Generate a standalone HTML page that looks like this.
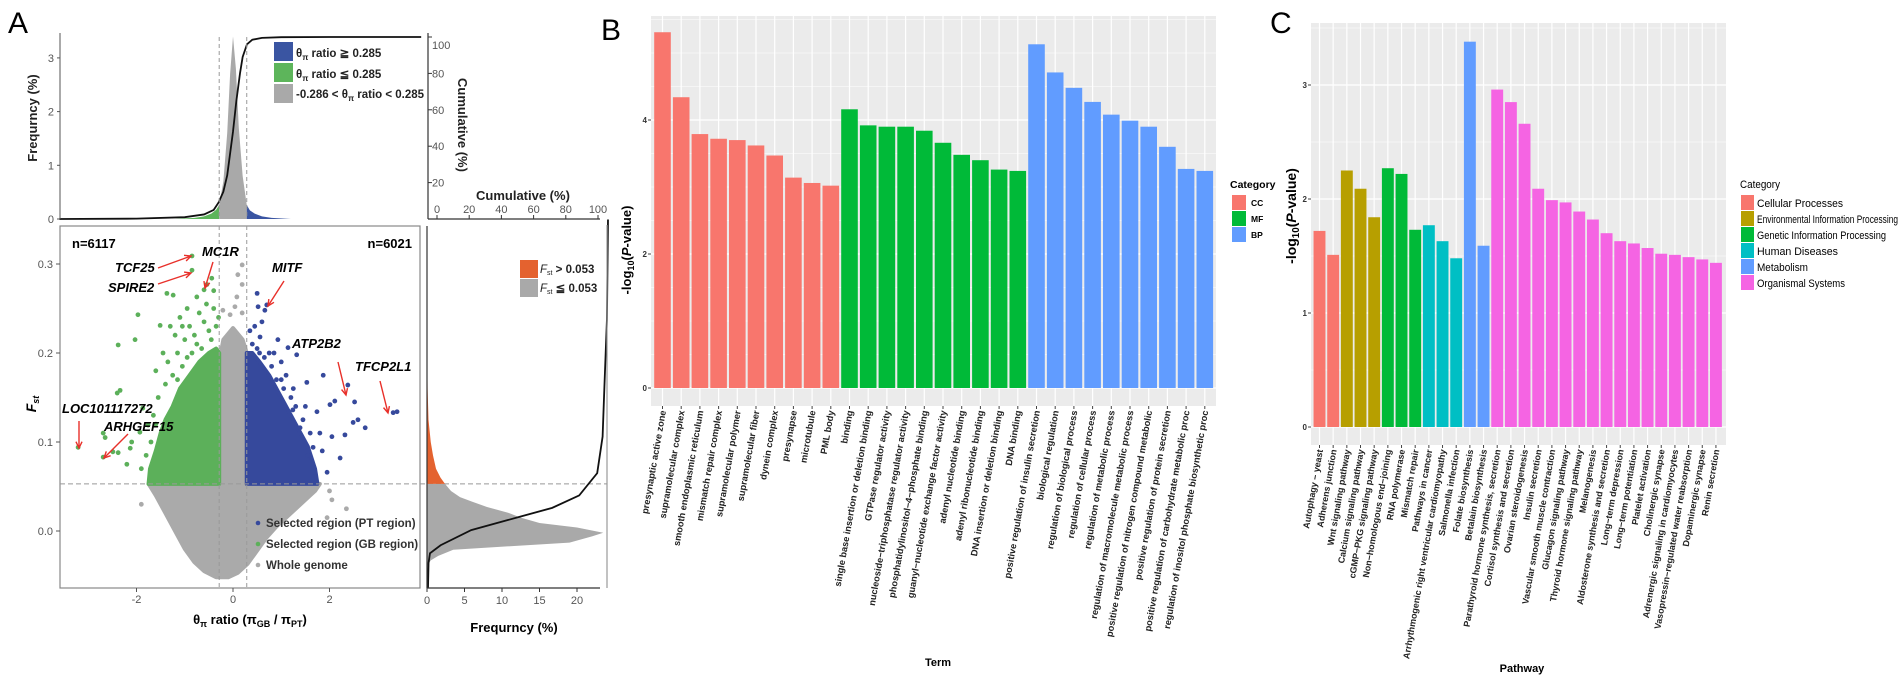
<!DOCTYPE html>
<html><head><meta charset="utf-8"><style>
html,body{margin:0;padding:0;background:#fff;}
svg{display:block;font-family:"Liberation Sans",Arial,sans-serif;}
</style></head><body>
<svg id="fig" width="1902" height="685" viewBox="0 0 1902 685" xmlns="http://www.w3.org/2000/svg">
<text x="8" y="33" font-size="30">A</text>
<text x="601" y="40" font-size="30">B</text>
<text x="1270" y="33" font-size="30">C</text>
</svg>
<script>
// ===== Panel A data =====
const topRatio = [-1.2,-0.8,-0.6,-0.45,-0.35,-0.286,-0.2,-0.12,-0.06,0,0.06,0.12,0.2,0.285,0.35,0.45,0.6,0.8,1.2];
const topFreq  = [0,0.02,0.05,0.1,0.17,0.26,0.7,1.6,2.7,3.4,2.8,1.7,0.8,0.26,0.16,0.1,0.05,0.02,0];
const cumRatio = [-3.6,-2,-1,-0.6,-0.4,-0.3,-0.2,-0.12,0,0.07,0.145,0.2,0.29,0.4,0.6,1,2,3.9];
const cumVals  = [0,0.2,1,2.5,5,9,15,24,48,65,80,89,96,98.5,99.5,99.9,100,100];
const rhFst  = [-0.065,-0.045,-0.038,-0.033,-0.028,-0.021,-0.013,-0.006,-0.002,0.004,0.009,0.015,0.02,0.027,0.033,0.038,0.045,0.053,0.06,0.07,0.085,0.1,0.125,0.16,0.2,0.25,0.3];
const rhFreq = [0,0,0.1,0.5,1.5,3.5,19,22,23.5,20,15,12.5,11,8,6,4.4,3.2,2.4,1.8,1.2,0.8,0.5,0.2,0.08,0.03,0.01,0];
const rcFst  = [-0.064,-0.036,-0.025,-0.016,0.001,0.016,0.026,0.04,0.065,0.106,0.162,0.237,0.35];
const rcCum  = [0,0.3,1.1,7,24,51,69,84,94,97,98,99.4,100];
const grayCloud = [[-1.75,0.053],[-1.6,0.04],[-1.4,0.02],[-1.2,0.0],[-1.0,-0.02],[-0.8,-0.035],[-0.6,-0.045],[-0.35,-0.052],[-0.1,-0.052],[0.1,-0.047],[0.3,-0.037],[0.5,-0.022],[0.7,-0.007],[0.9,0.005],[1.1,0.015],[1.4,0.03],[1.7,0.045],[1.8,0.053],[0.285,0.053],[0.285,0.2],[0.2,0.215],[0,0.228],[-0.2,0.215],[-0.286,0.19],[-0.286,0.053]];
const greenCloud = [[-0.286,0.053],[-1.75,0.053],[-1.72,0.07],[-1.6,0.09],[-1.5,0.11],[-1.4,0.125],[-1.25,0.14],[-1.1,0.16],[-0.9,0.175],[-0.7,0.19],[-0.5,0.2],[-0.35,0.205],[-0.286,0.2]];
const blueCloud = [[0.285,0.053],[1.75,0.053],[1.7,0.07],[1.55,0.095],[1.35,0.115],[1.15,0.135],[0.95,0.155],[0.75,0.175],[0.55,0.19],[0.4,0.2],[0.285,0.2]];
const greenPts = [[-0.85,0.309],[-0.85,0.293],[-0.6,0.271],[-1.97,0.243],[-2.03,0.215],[-2.38,0.209],[-2.34,0.158],[-2.4,0.155],[-2.69,0.11],[-2.65,0.105],[-2.13,0.093],[-2.1,0.1],[-2.38,0.088],[-2.49,0.089],[-3.21,0.094],[-2.69,0.083],[-1.51,0.231],[-1.37,0.267],[-1.24,0.265],[-0.75,0.263],[-0.44,0.284],[-0.54,0.277],[-1.87,0.138],[-1.76,0.119],[-1.93,0.111],[-1.1,0.24],[-0.95,0.25],[-1.6,0.18],[-1.45,0.2],[-2.2,0.075],[-1.9,0.07],
 [-1.3,0.23],[-1.2,0.22],[-1.15,0.2],[-1.0,0.215],[-0.9,0.23],[-0.8,0.22],[-0.7,0.245],[-0.6,0.235],[-0.5,0.225],[-0.4,0.25],[-0.35,0.23],[-0.45,0.215],[-0.65,0.205],[-0.85,0.2],[-1.05,0.185],[-1.25,0.175],[-1.4,0.165],[-1.55,0.15],[-1.65,0.13],[-1.35,0.19],[-0.55,0.255],[-0.75,0.21],[-0.95,0.195],[-1.15,0.17],[-1.6,0.12],[-1.7,0.1],[-1.8,0.085],[-0.4,0.27],[-0.3,0.24],[-1.05,0.23]];
const bluePts = [[0.5,0.267],[0.66,0.248],[0.52,0.252],[0.7,0.254],[0.56,0.218],[0.93,0.215],[1.14,0.206],[1.32,0.198],[1.53,0.167],[1.87,0.175],[2.38,0.164],[2.52,0.145],[2.11,0.146],[2.01,0.142],[1.74,0.134],[3.32,0.133],[3.4,0.134],[2.49,0.122],[2.59,0.125],[2.74,0.116],[2.32,0.108],[2.05,0.106],[2.22,0.082],[1.95,0.066],[1.7,0.066],[1.55,0.085],[1.24,0.136],[1.39,0.116],[1.66,0.094],[0.45,0.23],[0.6,0.235],[1.0,0.19],[1.8,0.11],[1.85,0.09],
 [0.4,0.21],[0.5,0.205],[0.65,0.195],[0.8,0.185],[0.9,0.17],[1.05,0.16],[1.2,0.15],[1.3,0.14],[1.45,0.125],[1.6,0.11],[0.35,0.225],[0.75,0.2],[0.85,0.2],[1.1,0.175],[1.0,0.17],[1.25,0.16],[1.5,0.14],[0.55,0.2]];
const grayPts = [[0.19,0.299],[0.1,0.288],[0.19,0.277],[0.08,0.263],[0.04,0.252],[-0.21,0.248],[-0.06,0.243],[0.19,0.245],[2.05,0.035],[2.35,0.025],[1.95,0.015],[-1.9,0.03],[2.0,0.045]];
const genes = ['MC1R','TCF25','SPIRE2','MITF','ATP2B2','TFCP2L1','LOC101117272','ARHGEF15'];
const xTicksA = [-2,0,2];
const yTicksA = [0.0,0.1,0.2,0.3];
const topTicks = [0,1,2,3];
const cumTicks = [20,40,60,80,100];
const cumHTicks = [0,20,40,60,80,100];
const rhTicks = [0,5,10,15,20];

// ===== Panel B data =====
const termsCC = ['presynaptic active zone','supramolecular complex','smooth endoplasmic reticulum','mismatch repair complex','supramolecular polymer','supramolecular fiber','dynein complex','presynapse','microtubule','PML body'];
const valsCC = [5.31,4.34,3.79,3.72,3.70,3.62,3.47,3.14,3.06,3.02];
const termsMF = ['binding','single base insertion or deletion binding','GTPase regulator activity','nucleoside\u2212triphosphatase regulator activity','phosphatidylinositol\u22124\u2212phosphate binding','guanyl\u2212nucleotide exchange factor activity','adenyl nucleotide binding','adenyl ribonucleotide binding','DNA insertion or deletion binding','DNA binding'];
const valsMF = [4.16,3.92,3.90,3.90,3.84,3.66,3.48,3.40,3.26,3.24];
const termsBP = ['positive regulation of insulin secretion','biological regulation','regulation of biological process','regulation of cellular process','regulation of metabolic process','regulation of macromolecule metabolic process','positive regulation of nitrogen compound metabolic','positive regulation of protein secretion','positive regulation of carbohydrate metabolic proc','regulation of inositol phosphate biosynthetic proc'];
const valsBP = [5.13,4.71,4.48,4.27,4.08,3.99,3.90,3.60,3.27,3.24];
const bTicks = [0,2,4];

// ===== Panel C data =====
const pathways = ['Autophagy \u2212 yeast','Adherens junction','Wnt signaling pathway','Calcium signaling pathway','cGMP\u2212PKG signaling pathway','Non\u2212homologous end\u2212joining','RNA polymerase','Mismatch repair','Pathways in cancer','Arrhythmogenic right ventricular cardiomyopathy','Salmonella infection','Folate biosynthesis','Betalain biosynthesis','Parathyroid hormone synthesis, secretion','Cortisol synthesis and secretion','Ovarian steroidogenesis','Insulin secretion','Vascular smooth muscle contraction','Glucagon signaling pathway','Thyroid hormone signaling pathway','Melanogenesis','Aldosterone synthesis and secretion','Long\u2212term depression','Long\u2212term potentiation','Platelet activation','Cholinergic synapse','Adrenergic signaling in cardiomyocytes','Vasopressin\u2212regulated water reabsorption','Dopaminergic synapse','Renin secretion'];
const pathVals = [1.72,1.51,2.25,2.09,1.84,2.27,2.22,1.73,1.77,1.63,1.48,3.38,1.59,2.96,2.85,2.66,2.09,1.99,1.97,1.89,1.82,1.70,1.63,1.61,1.57,1.52,1.51,1.49,1.47,1.44];
const pathCat = [0,0,1,1,1,2,2,2,3,3,3,4,4,5,5,5,5,5,5,5,5,5,5,5,5,5,5,5,5,5];
const catNames = ['Cellular Processes','Environmental Information Processing','Genetic Information Processing','Human Diseases','Metabolism','Organismal Systems'];
const cTicks = [0,1,2,3];

const NS='http://www.w3.org/2000/svg';
const svg=document.getElementById('fig');
function mk(tag,attrs,parent){const e=document.createElementNS(NS,tag);for(const k in attrs)e.setAttribute(k,attrs[k]);(parent||svg).appendChild(e);return e;}
function grp(){return mk('g',{});}

const xA=r=>233+48.25*r;
const yS=f=>531-890*f;
const yH=p=>219-53.7*p;
const yC=c=>219-1.82*c;
const xR=p=>427+7.5*p;
const xRC=c=>428+1.8*c;
const xCH=c=>437+1.61*c;

// ===== top histogram =====
const gTop=grp();


function histPoly(lo,hi,color,name){
  let pts=[[xA(lo),219]];
  for(let i=0;i<topRatio.length;i++){const r=topRatio[i];if(r>=lo&&r<=hi)pts.push([xA(r),yH(topFreq[i])]);}
  pts.push([xA(hi),219]);
  const p=mk('polygon',{points:pts.map(q=>q.join(',')).join(' '),fill:color},gTop);
  
  
}
histPoly(-1.2,-0.286,'#5db55b','hist-gb-region');
histPoly(-0.286,0.285,'#a9a9a9','hist-whole-genome');
histPoly(0.285,1.2,'#3a55a2','hist-pt-region');
const cumLine=mk('polyline',{points:cumRatio.map((r,i)=>xA(r)+','+yC(cumVals[i])).join(' '),fill:'none',stroke:'#111','stroke-width':1.8},gTop);


mk('line',{x1:60,y1:33,x2:60,y2:219,stroke:'#555','stroke-width':1},gTop);
mk('line',{x1:428,y1:33,x2:428,y2:219,stroke:'#333','stroke-width':1.2},gTop);
topTicks.forEach(t=>{
  mk('line',{x1:57,y1:yH(t),x2:60,y2:yH(t),stroke:'#555'},gTop);
  const tx=mk('text',{x:54,y:yH(t)+4,'font-size':11,fill:'#555','text-anchor':'end'},gTop);tx.textContent=t;
  
  
});
cumTicks.forEach(t=>{
  mk('line',{x1:428,y1:yC(t),x2:432,y2:yC(t),stroke:'#333'},gTop);
  const tx=mk('text',{x:432,y:yC(t)+(t===100?12:4),'font-size':11,fill:'#555'},gTop);tx.textContent=t;
  
  
});
mk('line',{x1:428,y1:219,x2:600,y2:219,stroke:'#333','stroke-width':1.2},gTop);
cumHTicks.forEach(t=>{
  mk('line',{x1:xCH(t),y1:215,x2:xCH(t),y2:219,stroke:'#333'},gTop);
  const tx=mk('text',{x:xCH(t),y:213,'font-size':11,fill:'#555','text-anchor':'middle'},gTop);tx.textContent=t;
  
  
});
{const t=mk('text',{x:476,y:200,'font-size':13,'font-weight':'bold',fill:'#222'},gTop);t.textContent='Cumulative (%)';

}
{const t=mk('text',{x:0,y:0,'font-size':13,'font-weight':'bold',fill:'#222','text-anchor':'middle',transform:'translate(458,125) rotate(90)'},gTop);t.textContent='Cumulative (%)';

}
{const t=mk('text',{x:0,y:0,'font-size':13,'font-weight':'bold',fill:'#222','text-anchor':'middle',transform:'translate(37,118) rotate(-90)'},gTop);t.textContent='Frequrncy (%)';

}
const legTop=[['#3a55a2','\u2267 0.285',42,56],['#5db55b','\u2266 0.285',63,73],['#a9a9a9','',84,90]];
legTop.forEach((l,i)=>{
  const r=mk('rect',{x:274,y:l[2],width:19,height:19,fill:l[0]},gTop);
  
  
  const t=mk('text',{x:296,y:l[3]+(i===0?1:i===1?5:8),'font-size':11.5,'font-weight':'bold',fill:'#222'},gTop);
  if(i<2){t.innerHTML='\u03b8<tspan font-size="8" dy="3">\u03c0</tspan><tspan dy="-3"> ratio '+l[1]+'</tspan>';}
  else{t.innerHTML='-0.286 &lt; \u03b8<tspan font-size="8" dy="3">\u03c0</tspan><tspan dy="-3"> ratio &lt; 0.285</tspan>';}
  
  
});

// ===== scatter =====
const gS=grp();


function cloud(arr,color,name){
  const p=mk('polygon',{points:arr.map(q=>xA(q[0])+','+yS(q[1])).join(' '),fill:color,stroke:color,'stroke-width':4,'stroke-linejoin':'round'},gS);
  
  
}
cloud(grayCloud,'#aaaaaa','whole-genome-cloud');
cloud(greenCloud,'#5cb05a','gb-region-cloud');
cloud(blueCloud,'#36499c','pt-region-cloud');
function pts(arr,color,name){
  arr.forEach(q=>{
    const c=mk('circle',{cx:xA(q[0]),cy:yS(q[1]),r:2.4,fill:color},gS);
    
    
  });
}
pts(grayPts,'#aaaaaa','whole-genome-point');
pts(greenPts,'#5cb05a','gb-region-point');
pts(bluePts,'#36499c','pt-region-point');
mk('rect',{x:60,y:226,width:360,height:362,fill:'none',stroke:'#888','stroke-width':1.2},gS);
[-0.286,0.285].forEach(r=>{
  mk('line',{x1:xA(r),y1:37,x2:xA(r),y2:219,stroke:'#999','stroke-dasharray':'4,3'},gS);
  mk('line',{x1:xA(r),y1:226,x2:xA(r),y2:588,stroke:'#999','stroke-dasharray':'4,3'},gS);
});
mk('line',{x1:60,y1:yS(0.053),x2:607,y2:yS(0.053),stroke:'#999','stroke-dasharray':'5,3'},gS);
xTicksA.forEach(t=>{
  mk('line',{x1:xA(t),y1:588,x2:xA(t),y2:592,stroke:'#555'},gS);
  const tx=mk('text',{x:xA(t),y:603,'font-size':11,fill:'#555','text-anchor':'middle'},gS);tx.textContent=t;
  
  
});
yTicksA.forEach(t=>{
  mk('line',{x1:56,y1:yS(t),x2:60,y2:yS(t),stroke:'#555'},gS);
  const tx=mk('text',{x:53,y:yS(t)+4,'font-size':11,fill:'#555','text-anchor':'end'},gS);tx.textContent=t.toFixed(1);
  
  
});
{const t=mk('text',{x:72,y:248,'font-size':13,'font-weight':'bold'},gS);t.textContent='n=6117';

}
{const t=mk('text',{x:412,y:248,'font-size':13,'font-weight':'bold','text-anchor':'end'},gS);t.textContent='n=6021';

}
{const t=mk('text',{x:250,y:624,'font-size':13,'font-weight':'bold','text-anchor':'middle'},gS);
t.innerHTML='\u03b8<tspan font-size="9" dy="3">\u03c0</tspan><tspan dy="-3"> ratio (\u03c0</tspan><tspan font-size="9" dy="3">GB</tspan><tspan dy="-3"> / \u03c0</tspan><tspan font-size="9" dy="3">PT</tspan><tspan dy="-3">)</tspan>';

}
{const t=mk('text',{x:0,y:0,'font-size':14,'font-weight':'bold','font-style':'italic','text-anchor':'middle',transform:'translate(36,404) rotate(-90)'},gS);
t.innerHTML='F<tspan font-size="9" dy="3">st</tspan>';

}
const geneLab=[[202,256],[115,272],[108,292],[272,272],[292,348],[355,371],[62,413],[104,431]];
const arrows=[[213,262,205,288],[158,268,191,256],[158,284,191,273],[284,281,268,306],[338,362,346,395],[380,381,388,413],[79,421,79,448],[128,434,104,458]];
genes.forEach((g,i)=>{
  const t=mk('text',{x:geneLab[i][0],y:geneLab[i][1],'font-size':13,'font-weight':'bold','font-style':'italic'},gS);t.textContent=g;
  
  
  const a=arrows[i];
  const ln=mk('line',{x1:a[0],y1:a[1],x2:a[2],y2:a[3],stroke:'#e8302a','stroke-width':1.4},gS);
  
  
  const ang=Math.atan2(a[3]-a[1],a[2]-a[0]);const L=7;
  const p1=[a[2]-L*Math.cos(ang-0.45),a[3]-L*Math.sin(ang-0.45)],p2=[a[2]-L*Math.cos(ang+0.45),a[3]-L*Math.sin(ang+0.45)];
  mk('polyline',{points:p1.join(',')+' '+a[2]+','+a[3]+' '+p2.join(','),fill:'none',stroke:'#e8302a','stroke-width':1.4},gS);
});
const sLeg=[['#36499c','Selected region (PT region)',527],['#5cb05a','Selected region (GB region)',548],['#aaaaaa','Whole genome',569]];
sLeg.forEach(l=>{
  const c=mk('circle',{cx:258,cy:l[2]-4,r:2.3,fill:l[0]},gS);
  
  
  const t=mk('text',{x:266,y:l[2],'font-size':11.5,'font-weight':'bold',fill:'#333'},gS);t.textContent=l[1];
  
  
});

// ===== right histogram =====
const gR=grp();


function rPoly(lo,hi,color,name){
  let p=[[427,yS(lo)]];
  rhFst.forEach((f,i)=>{if(f>=lo&&f<=hi)p.push([xR(rhFreq[i]),yS(f)]);});
  p.push([427,yS(hi)]);
  const e=mk('polygon',{points:p.map(q=>q.join(',')).join(' '),fill:color},gR);
  
  
}
rPoly(-0.065,0.053,'#a9a9a9','fst-le-hist');
rPoly(0.053,0.3,'#e4622f','fst-gt-hist');
const rc=mk('polyline',{points:rcFst.map((f,i)=>xRC(rcCum[i])+','+yS(f)).join(' '),fill:'none',stroke:'#111','stroke-width':1.8},gR);


mk('line',{x1:427,y1:226,x2:427,y2:588,stroke:'#333','stroke-width':1.2},gR);
mk('line',{x1:427,y1:588,x2:600,y2:588,stroke:'#333','stroke-width':1.2},gR);
mk('line',{x1:607,y1:225,x2:607,y2:588,stroke:'#999','stroke-width':1.2},gR);
rhTicks.forEach(t=>{
  mk('line',{x1:xR(t),y1:588,x2:xR(t),y2:592,stroke:'#333'},gR);
  const tx=mk('text',{x:xR(t),y:604,'font-size':11,fill:'#555','text-anchor':'middle'},gR);tx.textContent=t;
  
  
});
{const t=mk('text',{x:514,y:632,'font-size':13,'font-weight':'bold','text-anchor':'middle'},gR);t.textContent='Frequrncy (%)';

}
[['#e4622f','>',260,273],['#a9a9a9','\u2266',279,292]].forEach(l=>{
  const r=mk('rect',{x:520,y:l[2],width:18,height:18,fill:l[0]},gR);
  
  
  const t=mk('text',{x:540,y:l[3],'font-size':11.5,fill:'#222'},gR);
  t.innerHTML='<tspan font-style="italic">F</tspan><tspan font-size="7" dy="2">st</tspan><tspan dy="-2" font-weight="bold"> '+l[1]+' 0.053</tspan>';
  
  
});

// ===== generic bar panel =====
function barPanel(cfg){
  const g=grp();
  
  
  const bg=mk('rect',{x:cfg.x0,y:cfg.y0,width:cfg.x1-cfg.x0,height:cfg.yb-cfg.y0,fill:'#ebebeb'},g);
  
  
  const ys=v=>cfg.zero-cfg.k*v;
  for(let v=0;v<=cfg.maxGrid;v+=0.5){const y=ys(v);if(y<cfg.y0)continue;
    mk('line',{x1:cfg.x0,y1:y,x2:cfg.x1,y2:y,stroke:'#fff','stroke-width':(v%1===0&&cfg.ticks.includes(v))?1.3:0.6},g);}
  const cx=i=>cfg.first+i*cfg.pitch;
  cfg.labels.forEach((l,i)=>mk('line',{x1:cx(i),y1:cfg.y0,x2:cx(i),y2:cfg.yb,stroke:'#fff','stroke-width':1.2},g));
  cfg.vals.forEach((v,i)=>{
    const r=mk('rect',{x:cx(i)-cfg.bw/2,y:ys(v),width:cfg.bw,height:ys(0)-ys(v),fill:cfg.colors[i]},g);
    
    
    mk('line',{x1:cx(i),y1:cfg.yb,x2:cx(i),y2:cfg.yb+3,stroke:'#444'},g);
    const t=mk('text',{x:0,y:0,'font-size':cfg.fs,'font-weight':'bold',fill:'#222','text-anchor':'end',transform:'translate('+(cx(i)+3.5)+','+(cfg.yb+5)+') rotate(-80)'},g);
    t.textContent=cfg.labels[i];
    
    
  });
  cfg.ticks.forEach(v=>{
    mk('line',{x1:cfg.x0-3,y1:ys(v),x2:cfg.x0,y2:ys(v),stroke:'#444'},g);
    const t=mk('text',{x:cfg.x0-4,y:ys(v)+3,'font-size':8,'font-weight':'bold',fill:'#333','text-anchor':'end'},g);t.textContent=v;
    
    
  });
  const yt=mk('text',{x:0,y:0,'font-size':cfg.tfs,'font-weight':'bold','text-anchor':'middle',transform:'translate('+cfg.tx+','+cfg.ty+') rotate(-90)'},g);
  yt.innerHTML='-log<tspan font-size="'+(cfg.tfs*0.7)+'" dy="3">10</tspan><tspan dy="-3">(</tspan><tspan font-style="italic">P</tspan>-value)';
  
  
  const xt=mk('text',{x:cfg.xtX,y:cfg.xtY,'font-size':11,'font-weight':'bold','text-anchor':'middle'},g);xt.textContent=cfg.xTitle;
  
  
  return g;
}
const colB={CC:'#F8766D',MF:'#00BA38',BP:'#619CFF'};
const bLabels=termsCC.concat(termsMF,termsBP);
const bVals=valsCC.concat(valsMF,valsBP);
const bCols=termsCC.map(()=>colB.CC).concat(termsMF.map(()=>colB.MF),termsBP.map(()=>colB.BP));
const gB=barPanel({name:'go-enrichment-chart',x0:651,x1:1216,y0:16,yb:406,zero:388,k:67,maxGrid:6,ticks:bTicks,first:662.5,pitch:18.7,bw:16.6,labels:bLabels,vals:bVals,colors:bCols,fs:9.3,tfs:13,tx:631,ty:250,xTitle:'Term',xtX:938,xtY:666});
{const t=mk('text',{x:1230,y:188,'font-size':10.5,'font-weight':'bold'},gB);t.textContent='Category';

}
['CC','MF','BP'].forEach((c,i)=>{
  const r=mk('rect',{x:1232,y:195+i*16,width:14,height:15,fill:colB[c]},gB);
  
  
  const t=mk('text',{x:1251,y:206+i*16,'font-size':8.5,'font-weight':'bold'},gB);t.textContent=c;
  
  
});

const colC=['#F8766D','#B79F00','#00BA38','#00BFC4','#619CFF','#F564E3'];
const gC=barPanel({name:'kegg-enrichment-chart',x0:1311,x1:1726,y0:23,yb:445,zero:427,k:114,maxGrid:3.5,ticks:cTicks,first:1319.5,pitch:13.67,bw:11.9,labels:pathways,vals:pathVals,colors:pathCat.map(c=>colC[c]),fs:9,tfs:14,tx:1296,ty:216,xTitle:'Pathway',xtX:1522,xtY:672});
{const t=mk('text',{x:1740,y:188,'font-size':11,textLength:40,lengthAdjust:'spacingAndGlyphs'},gC);t.textContent='Category';

}
const catW=[86,141,129,81,51,88];
catNames.forEach((c,i)=>{
  const r=mk('rect',{x:1741,y:195+i*16,width:13,height:15,fill:colC[i]},gC);
  
  
  const t=mk('text',{x:1757,y:207+i*16,'font-size':11,textLength:catW[i],lengthAdjust:'spacingAndGlyphs'},gC);t.textContent=c;
  
  
});
</script>
</body></html>
